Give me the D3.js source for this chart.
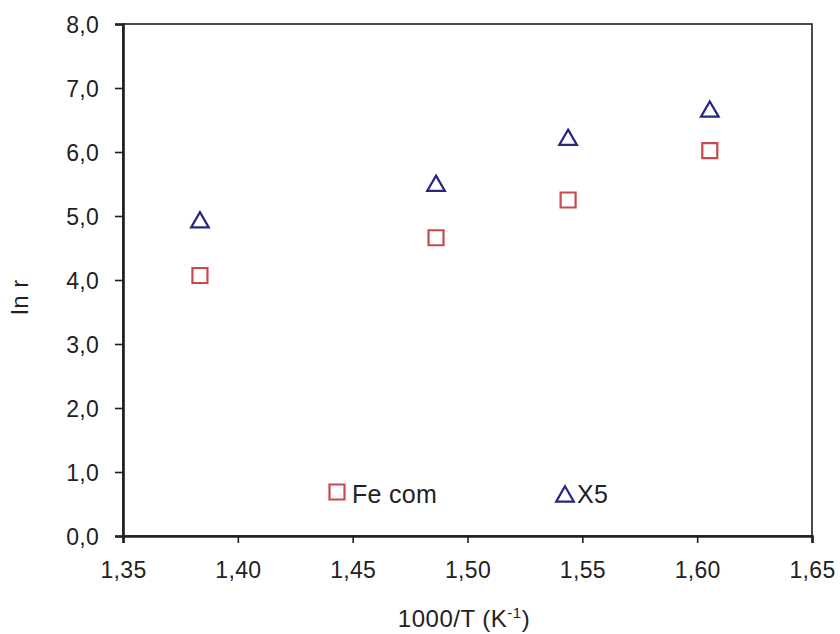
<!DOCTYPE html>
<html>
<head>
<meta charset="utf-8">
<script src="https://cdn.jsdelivr.net/npm/d3@7"></script>
<style>
html,body{margin:0;padding:0;background:#fff;}
svg{display:block;font-family:"Liberation Sans",Arial,sans-serif;}
</style>
</head>
<body>
<svg id="chart" width="840" height="634"></svg>
<script>
const xValues = [1.3835, 1.4863, 1.5438, 1.6055];
const feCom = [4.07, 4.66, 5.25, 6.02];
const x5 = [4.94, 5.51, 6.23, 6.67];
const seriesNames = ["Fe com", "X5"];
const xTickValues = [1.35, 1.40, 1.45, 1.50, 1.55, 1.60, 1.65];
const xTickLabels = ["1,35", "1,40", "1,45", "1,50", "1,55", "1,60", "1,65"];
const yTickValues = [0, 1, 2, 3, 4, 5, 6, 7, 8];
const yTickLabels = ["0,0", "1,0", "2,0", "3,0", "4,0", "5,0", "6,0", "7,0", "8,0"];

const svg = d3.select("#chart");
const L = 123, R = 812, T = 24, B = 536;
const x = d3.scaleLinear().domain([1.35, 1.65]).range([L, R]);
const y = d3.scaleLinear().domain([0, 8]).range([B, T]);
const dark = "#231f20";
const red = "#c9484b";
const navy = "#262680";
const triOffset = 2.5;

// frame
svg.append("rect").attr("x", L).attr("y", T).attr("width", R - L).attr("height", B - T)
  .attr("fill", "none").attr("stroke", dark).attr("stroke-width", 1.6);

// y axis
const yAxis = d3.axisLeft(y).tickValues(yTickValues)
  .tickFormat((d, i) => yTickLabels[i]).tickSize(8).tickPadding(16);
const gy = svg.append("g").attr("transform", `translate(${L},0)`).call(yAxis);
gy.select(".domain").attr("stroke", dark).attr("stroke-width", 2.6);
gy.selectAll(".tick line").attr("stroke", dark).attr("stroke-width", 1.6);
gy.selectAll(".tick text").attr("fill", "#222").style("font-size", "23px")
  .style("letter-spacing", "0.3px").attr("dy", "0.36em");

// x axis
const xAxis = d3.axisBottom(x).tickValues(xTickValues)
  .tickFormat((d, i) => xTickLabels[i]).tickSize(7).tickPadding(19);
const gx = svg.append("g").attr("transform", `translate(0,${B})`).call(xAxis);
gx.select(".domain").attr("stroke", dark).attr("stroke-width", 2.6);
gx.selectAll(".tick line").attr("stroke", dark).attr("stroke-width", 1.6);
gx.selectAll(".tick text").attr("fill", "#222").style("font-size", "23px")
  .style("letter-spacing", "0.3px").attr("dy", "0.71em");

// axis titles
const xt = svg.append("text").attr("x", 464).attr("y", 627).attr("text-anchor", "middle")
  .attr("fill", "#222").style("font-size", "24px").style("letter-spacing", "0.5px");
xt.append("tspan").text("1000/T (K");
xt.append("tspan").text("-1").style("font-size", "15px").attr("dy", "-9");
xt.append("tspan").text(")").attr("dy", "9");

svg.append("text").attr("transform", "translate(28,297) rotate(-90)")
  .attr("text-anchor", "middle").attr("fill", "#222").style("font-size", "24px")
  .style("letter-spacing", "0.5px").text("ln r");

// markers
const sq = d3.symbol().type(d3.symbolSquare).size(225);
const tri = d3.symbol().type(d3.symbolTriangle).size(135);

svg.append("g").selectAll("path").data(xValues).join("path")
  .attr("d", sq).attr("transform", (d, i) => `translate(${x(d)},${y(feCom[i])})`)
  .attr("fill", "none").attr("stroke", red).attr("stroke-width", 2.2);

svg.append("g").selectAll("path").data(xValues).join("path")
  .attr("d", tri).attr("transform", (d, i) => `translate(${x(d)},${y(x5[i]) + triOffset})`)
  .attr("fill", "none").attr("stroke", navy).attr("stroke-width", 2.2);

// legend
const leg = svg.append("g");
leg.append("path").attr("d", sq).attr("transform", "translate(337,492)")
  .attr("fill", "none").attr("stroke", red).attr("stroke-width", 2.2);
leg.append("text").attr("x", 352).attr("y", 503).attr("fill", "#222")
  .style("font-size", "25px").style("letter-spacing", "0.3px").text(seriesNames[0]);
leg.append("path").attr("d", tri).attr("transform", `translate(565,${494 + triOffset})`)
  .attr("fill", "none").attr("stroke", navy).attr("stroke-width", 2.2);
leg.append("text").attr("x", 577).attr("y", 503).attr("fill", "#222")
  .style("font-size", "25px").style("letter-spacing", "0.3px").text(seriesNames[1]);
</script>
</body>
</html>
